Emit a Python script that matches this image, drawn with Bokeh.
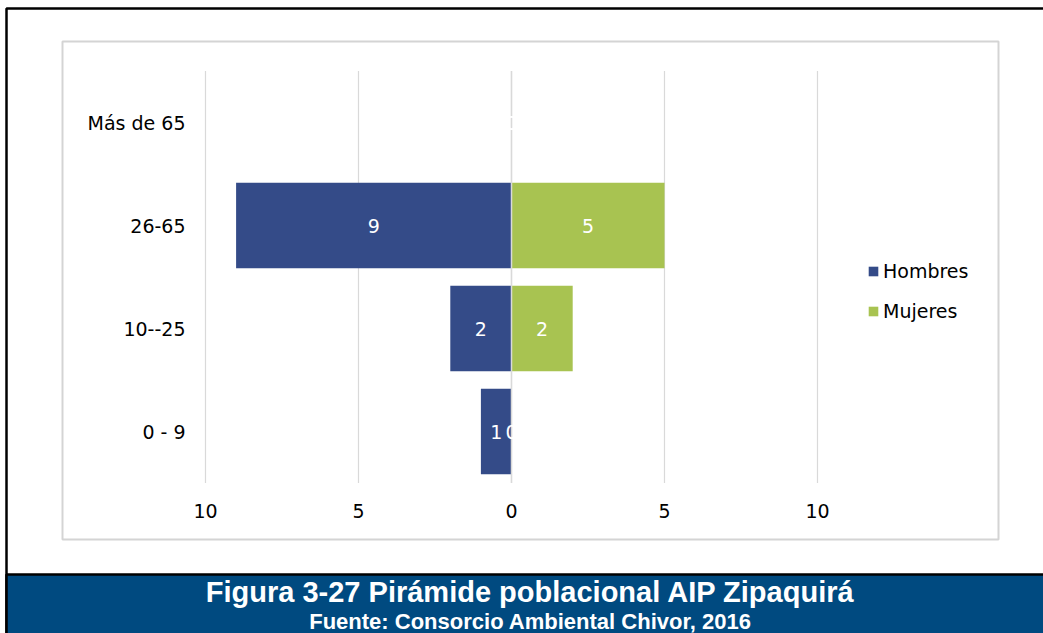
from bokeh.plotting import figure
from bokeh.models import Range1d, Legend, LegendItem, ColumnDataSource
from bokeh.core.properties import value
from bokeh.embed import file_html
from bokeh.resources import INLINE

# ---- data ----
categories = ["0 - 9", "10--25", "26-65", "Más de 65"]
hombres = [1, 2, 9, 0]
mujeres = [0, 2, 5, 0]
x_ticks = [-10, -5, 0, 5, 10]
x_tick_labels = ["10", "5", "0", "5", "10"]
title_text = "Figura 3-27 Pirámide poblacional AIP Zipaquirá"
source_text = "Fuente: Consorcio Ambiental Chivor, 2016"

BLUE = "#344b88"
GREEN = "#a8c351"
BANNER = "#004a80"
GRID = "#d9d9d9"
FONT = "DejaVu Sans"
FS = "19px"

W, H = 1043, 633

# pixel layout of the plot area (frame covers whole canvas)
X0_PX, PX_PER_UNIT = 511.0, 30.6      # x=0 position, pixels per value unit
Y0_PX, PX_PER_CAT = 431.0, 103.0      # first category centre, category step


def xd(px):
    return (px - X0_PX) / PX_PER_UNIT


def yd(px):
    return (Y0_PX - px) / PX_PER_CAT


p = figure(width=W, height=H, output_backend="svg", toolbar_location=None,
           x_range=Range1d(xd(0), xd(W)), y_range=Range1d(yd(H), yd(0)),
           min_border=0, min_border_left=0, min_border_right=0,
           min_border_top=0, min_border_bottom=0)
p.axis.visible = False
p.grid.visible = False
p.outline_line_color = None
p.background_fill_color = "white"
p.border_fill_color = "white"

cat_idx = list(range(len(categories)))

# ---- decorations ----
p.quad(left=[xd(62)], right=[xd(998)], top=[yd(41)], bottom=[yd(539)],
       fill_alpha=0, line_color="#d4d4d4", line_width=2)
p.quad(left=[xd(6)], right=[xd(1070)], top=[yd(8)], bottom=[yd(650)],
       fill_alpha=0, line_color="black", line_width=2.5)
p.quad(left=[xd(6)], right=[xd(1070)], top=[yd(574)], bottom=[yd(650)],
       fill_color=BANNER, line_color="black", line_width=2.5)

# ---- grid ----
p.segment(x0=x_ticks, x1=x_ticks, y0=[-0.5] * len(x_ticks),
          y1=[len(categories) - 0.5] * len(x_ticks),
          line_color=GRID, line_width=1.2)

src = ColumnDataSource(dict(
    cat=cat_idx,
    name=categories,
    h_left=[-v for v in hombres],
    h_mid=[-v / 2 for v in hombres],
    h_txt=[str(v) for v in hombres],
    m_right=mujeres,
    m_mid=[v / 2 for v in mujeres],
    m_txt=[str(v) for v in mujeres],
))

rh = p.hbar(y="cat", left="h_left", right=0, height=0.83, source=src,
            fill_color=BLUE, line_color=None)
rm = p.hbar(y="cat", left=0, right="m_right", height=0.83, source=src,
            fill_color=GREEN, line_color=None)
p.segment(x0=[0], x1=[0], y0=[-0.5], y1=[len(categories) - 0.5],
          line_color=GRID, line_width=1.5)

p.text(x="h_mid", y="cat", text="h_txt", source=src, text_color="white",
       text_font=value(FONT), text_font_size=FS, text_align="center",
       text_baseline="middle")
p.text(x="m_mid", y="cat", text="m_txt", source=src, text_color="white",
       text_font=value(FONT), text_font_size=FS, text_align="center",
       text_baseline="middle")

p.text(x=xd(185), y="cat", text="name", source=src,
       text_color="black", text_font=value(FONT), text_font_size=FS,
       text_align="right", text_baseline="middle")

p.text(x=x_ticks, y=[yd(510)] * len(x_ticks), text=x_tick_labels,
       text_color="black", text_font=value(FONT), text_font_size=FS,
       text_align="center", text_baseline="middle")

legend = Legend(items=[LegendItem(label="Hombres", renderers=[rh]),
                       LegendItem(label="Mujeres", renderers=[rm])],
                location=(867, H - 322), glyph_width=12, glyph_height=12,
                label_standoff=4, spacing=18, label_height=20, padding=0,
                margin=0, border_line_color=None, background_fill_alpha=0,
                label_text_font=FONT, label_text_font_size=FS,
                label_text_color="black")
p.add_layout(legend)

p.text(x=[xd(530)], y=[yd(591)], text=[title_text], text_color="white",
       text_font=value("Liberation Sans"), text_font_style="bold",
       text_font_size="29px", text_align="center", text_baseline="middle")
p.text(x=[xd(530)], y=[yd(621)], text=[source_text], text_color="white",
       text_font=value("Liberation Sans"), text_font_style="bold",
       text_font_size="22px", text_align="center", text_baseline="middle")

open("out.html", "w").write(file_html(p, INLINE))
